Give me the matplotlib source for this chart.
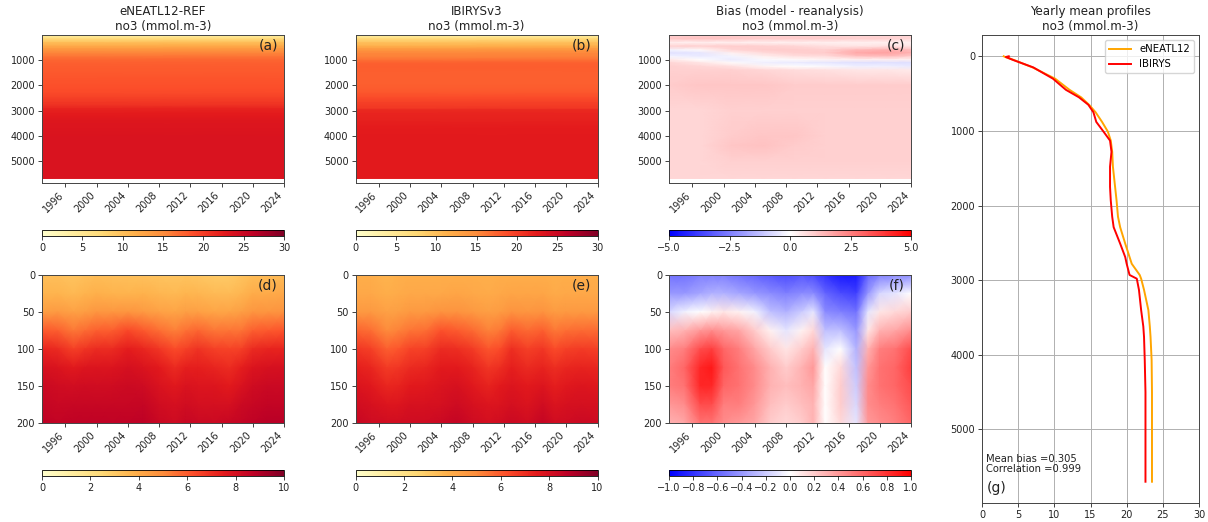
import matplotlib
matplotlib.use("Agg")
import matplotlib.pyplot as plt
import numpy as np

# yearly mean no3 profiles (mmol.m-3) vs depth (m)
prof_depth = [0.5, 10, 50, 150, 300, 450, 550, 650, 750, 880, 1010, 1130, 1280,
              1480, 1750, 1930, 2150, 2290, 2510, 2690, 2780, 2930, 2980, 3130,
              3220, 3400, 3620, 3760, 4070, 4500, 5000, 5700]
prof_neatl = [3.0, 3.2, 4.4, 7.0, 10.1, 12.1, 13.7, 14.8, 15.7, 16.6, 17.4, 17.8, 18.0,
              18.1, 18.4, 18.6, 18.8, 19.1, 19.8, 20.4, 20.7, 21.8, 22.0, 22.4,
              22.6, 23.0, 23.2, 23.3, 23.45, 23.5, 23.5, 23.5]
prof_ibirys = [3.7, 3.3, 4.3, 7.1, 9.8, 11.6, 13.4, 14.7, 15.4, 15.8, 16.8, 17.7, 17.9,
               17.7, 17.7, 17.8, 18.0, 18.2, 19.1, 19.8, 20.0, 20.4, 21.4, 21.7,
               21.8, 22.0, 22.3, 22.4, 22.5, 22.6, 22.6, 22.6]
mean_bias = 0.305
correlation = 0.999

period = [1993, 2024]

# full-depth bias field (model - reanalysis)
bias_years = [1993, 1997, 2001, 2005, 2009, 2013, 2017, 2021, 2024]
bias_depth = [0.5, 150, 300, 450, 600, 720, 850, 980, 1100, 1250, 1400,
              2000, 3000, 4000, 4400, 5000, 5700]
bias_full = [
    [0.9, 1.0, 1.0, 0.9, 0.9, 0.9, 0.8, 0.8, 0.8],
    [1.1, 1.2, 1.1, 1.0, 1.0, 1.0, 0.9, 0.9, 0.8],
    [0.3, 0.3, 0.3, 0.3, 0.3, 0.3, 0.3, 0.3, 0.3],
    [0.9, 0.9, 1.0, 0.9, 0.8, 0.6, 0.5, 0.6, 0.5],
    [-0.2, 0.1, 0.8, 1.0, 1.0, 0.9, 1.4, 1.6, 1.3],
    [-0.6, -0.5, 0.3, 0.7, 0.9, 1.0, 1.7, 1.8, 1.5],
    [-0.2, -0.4, -0.2, 0.3, 0.6, 0.7, 1.2, 1.3, 1.0],
    [0.4, 0.0, -0.4, -0.1, 0.1, 0.2, 0.3, 0.3, 0.3],
    [0.8, 0.5, 0.1, -0.3, -0.4, -0.5, -0.6, -0.6, -0.6],
    [0.9, 0.8, 0.6, 0.2, 0.0, -0.1, -0.3, -0.3, -0.4],
    [0.9, 0.9, 0.9, 0.8, 0.7, 0.6, 0.5, 0.5, 0.4],
    [1.0, 1.1, 1.1, 1.1, 1.0, 1.0, 1.0, 1.0, 1.0],
    [0.8, 0.8, 0.9, 0.9, 0.9, 0.9, 0.9, 0.9, 0.9],
    [0.8, 0.8, 1.0, 1.1, 1.1, 0.9, 0.9, 0.9, 0.9],
    [0.8, 0.8, 1.1, 1.2, 1.0, 0.9, 0.9, 0.9, 0.9],
    [0.8, 0.8, 0.9, 0.9, 0.9, 0.9, 0.9, 0.9, 0.9],
    [0.8, 0.8, 0.8, 0.8, 0.8, 0.8, 0.8, 0.8, 0.8],
]

# upper 200 m: reanalysis field and bias
top_years = [1993, 1995, 1997, 1998.5, 2000, 2002, 2004, 2006, 2008, 2010,
             2011.5, 2013, 2015, 2017, 2018.5, 2020, 2022, 2024]
top_depth = [0, 25, 50, 75, 100, 125, 150, 175, 200]
ibirys_top = [
    [3.9, 3.9, 3.7, 3.8, 3.9, 3.9, 3.9, 3.9, 3.9, 3.8, 3.9, 3.9, 3.9, 3.9, 3.8, 3.9, 3.9, 3.9],
    [4.1, 4.1, 3.9, 4.0, 4.1, 4.1, 4.1, 4.2, 4.1, 4.0, 4.1, 4.2, 4.2, 4.2, 4.0, 4.1, 4.1, 4.1],
    [4.6, 4.6, 4.3, 4.4, 4.6, 4.6, 4.8, 4.8, 4.6, 4.4, 4.5, 4.8, 4.7, 4.8, 4.5, 4.6, 4.6, 4.6],
    [5.8, 5.6, 5.0, 5.2, 5.5, 5.6, 6.2, 6.0, 5.7, 5.2, 5.4, 6.0, 5.7, 5.9, 5.4, 5.6, 5.7, 5.7],
    [6.8, 6.6, 5.9, 6.1, 6.5, 6.6, 7.1, 7.0, 6.7, 6.1, 6.3, 7.0, 6.6, 6.8, 6.3, 6.6, 6.7, 6.6],
    [7.4, 7.2, 6.7, 6.8, 7.1, 7.2, 7.5, 7.5, 7.3, 6.8, 7.0, 7.4, 7.1, 7.3, 7.0, 7.2, 7.3, 7.2],
    [7.8, 7.6, 7.2, 7.3, 7.5, 7.6, 7.8, 7.9, 7.6, 7.3, 7.5, 7.7, 7.5, 7.7, 7.4, 7.6, 7.7, 7.6],
    [8.1, 7.9, 7.7, 7.7, 7.9, 7.9, 8.0, 8.2, 7.9, 7.7, 7.8, 8.0, 7.8, 8.1, 7.8, 7.9, 8.0, 7.9],
    [8.4, 8.2, 8.1, 8.1, 8.2, 8.2, 8.3, 8.5, 8.2, 8.0, 8.1, 8.3, 8.1, 8.5, 8.1, 8.2, 8.3, 8.2],
]
bias_top = [
    [-0.55, -0.55, -0.5, -0.5, -0.5, -0.55, -0.6, -0.65, -0.7, -0.65, -0.7, -0.8, -0.9, -0.9, -0.6, -0.5, -0.45, -0.45],
    [-0.4, -0.4, -0.35, -0.3, -0.3, -0.35, -0.4, -0.45, -0.5, -0.45, -0.45, -0.6, -0.7, -0.75, -0.4, -0.15, -0.1, 0.0],
    [-0.15, -0.05, 0.0, 0.05, 0.1, 0.05, -0.05, -0.25, -0.3, -0.2, -0.1, -0.45, -0.5, -0.55, -0.1, 0.1, 0.15, 0.2],
    [0.25, 0.3, 0.4, 0.45, 0.4, 0.35, 0.2, 0.05, -0.1, 0.05, 0.15, -0.25, -0.25, -0.4, 0.1, 0.3, 0.35, 0.45],
    [0.45, 0.5, 0.7, 0.75, 0.6, 0.5, 0.35, 0.2, 0.1, 0.2, 0.3, -0.1, 0.0, -0.3, 0.3, 0.5, 0.55, 0.7],
    [0.5, 0.6, 0.85, 0.9, 0.65, 0.55, 0.45, 0.3, 0.2, 0.3, 0.4, 0.0, 0.15, -0.25, 0.4, 0.55, 0.6, 0.75],
    [0.5, 0.55, 0.85, 0.85, 0.6, 0.55, 0.45, 0.3, 0.25, 0.3, 0.35, 0.0, 0.2, -0.2, 0.45, 0.55, 0.6, 0.7],
    [0.4, 0.45, 0.7, 0.7, 0.5, 0.5, 0.4, 0.25, 0.2, 0.25, 0.3, 0.0, 0.2, -0.15, 0.45, 0.5, 0.55, 0.65],
    [0.3, 0.35, 0.55, 0.55, 0.45, 0.4, 0.35, 0.2, 0.15, 0.2, 0.3, 0.0, 0.15, -0.1, 0.4, 0.45, 0.5, 0.6],
]

year_ticks = [1996, 2000, 2004, 2008, 2012, 2016, 2020, 2024]
units = "no3 (mmol.m-3)"

TICK_FS = 7
TITLE_FS = 8.6
W, H = 1208, 522
fig = plt.figure(figsize=(W / 100, H / 100), dpi=100)


def box(left, top, right, bottom):
    return fig.add_axes([left / W, 1 - bottom / H, (right - left) / W, (bottom - top) / H])


def style(ax):
    ax.tick_params(labelsize=TICK_FS, length=3, width=0.6, pad=2, colors="#222222")
    for s in ax.spines.values():
        s.set_linewidth(0.7)
        s.set_color("#444444")


def hovmoller(ax, x, y, c, cmap, vmin, vmax, ylim, yticks, label):
    im = ax.pcolormesh(x, y, c, cmap=cmap, vmin=vmin, vmax=vmax, shading="gouraud")
    ax.set_xlim(period)
    ax.set_ylim(ylim)
    ax.set_yticks(yticks)
    ax.set_xticks(year_ticks)
    ax.set_xticklabels([str(v) for v in year_ticks], rotation=45, ha="right")
    ax.text(0.975, 0.93, label, transform=ax.transAxes, ha="right", va="center",
            fontsize=10, color="#222222")
    style(ax)
    return im


def cbar(im, left, top, right, bottom, ticks):
    cax = box(left, top, right, bottom)
    cb = fig.colorbar(im, cax=cax, orientation="horizontal", ticks=ticks)
    cb.ax.tick_params(labelsize=TICK_FS, length=3, width=0.6, pad=2, colors="#222222")
    cb.outline.set_linewidth(0.6)
    return cb


lefts = [42, 355.5, 669]
aw = 242
deep_ylim = (5880, 0.5)
deep_ticks = [1000, 2000, 3000, 4000, 5000]
shallow_ticks = [0, 50, 100, 150, 200]

prof_n = np.column_stack([prof_neatl, prof_neatl])
prof_i = np.column_stack([prof_ibirys, prof_ibirys])
ibirys_top = np.array(ibirys_top)
bias_top = np.array(bias_top)
neatl_top = ibirys_top + bias_top

# top row: full depth
ax_a = box(lefts[0], 35, lefts[0] + aw, 183)
im = hovmoller(ax_a, period, prof_depth, prof_n, "YlOrRd", 0, 30, deep_ylim, deep_ticks, "(a)")
ax_a.set_title("eNEATL12-REF\n" + units, fontsize=TITLE_FS, pad=3.5, color="#222222")
cbar(im, lefts[0], 229.5, lefts[0] + aw, 236, [0, 5, 10, 15, 20, 25, 30])

ax_b = box(lefts[1], 35, lefts[1] + aw, 183)
im = hovmoller(ax_b, period, prof_depth, prof_i, "YlOrRd", 0, 30, deep_ylim, deep_ticks, "(b)")
ax_b.set_title("IBIRYSv3\n" + units, fontsize=TITLE_FS, pad=3.5, color="#222222")
cbar(im, lefts[1], 229.5, lefts[1] + aw, 236, [0, 5, 10, 15, 20, 25, 30])

ax_c = box(lefts[2], 35, lefts[2] + aw, 183)
im = hovmoller(ax_c, bias_years, bias_depth, bias_full, "bwr", -5, 5, deep_ylim, deep_ticks, "(c)")
ax_c.set_title("Bias (model - reanalysis)\n" + units, fontsize=TITLE_FS, pad=3.5, color="#222222")
cbar(im, lefts[2], 229.5, lefts[2] + aw, 236, [-5.0, -2.5, 0.0, 2.5, 5.0])

# bottom row: upper 200 m
ax_d = box(lefts[0], 275, lefts[0] + aw, 423)
im = hovmoller(ax_d, top_years, top_depth, neatl_top, "YlOrRd", 0, 10, (200, 0), shallow_ticks, "(d)")
cbar(im, lefts[0], 469.5, lefts[0] + aw, 476, [0, 2, 4, 6, 8, 10])

ax_e = box(lefts[1], 275, lefts[1] + aw, 423)
im = hovmoller(ax_e, top_years, top_depth, ibirys_top, "YlOrRd", 0, 10, (200, 0), shallow_ticks, "(e)")
cbar(im, lefts[1], 469.5, lefts[1] + aw, 476, [0, 2, 4, 6, 8, 10])

ax_f = box(lefts[2], 275, lefts[2] + aw, 423)
im = hovmoller(ax_f, top_years, top_depth, bias_top, "bwr", -1, 1, (200, 0), shallow_ticks, "(f)")
cbar(im, lefts[2], 469.5, lefts[2] + aw, 476,
     [-1.0, -0.8, -0.6, -0.4, -0.2, 0.0, 0.2, 0.4, 0.6, 0.8, 1.0])

# yearly mean profiles
ax_g = box(982, 35, 1199, 503)
ax_g.plot(prof_neatl, prof_depth, color="orange", lw=1.4, label="eNEATL12")
ax_g.plot(prof_ibirys, prof_depth, color="red", lw=1.4, label="IBIRYS")
ax_g.invert_yaxis()
ax_g.set_xlim(0, 30)
ax_g.set_xticks([0, 5, 10, 15, 20, 25, 30])
ax_g.set_yticks([0, 1000, 2000, 3000, 4000, 5000])
ax_g.grid(True, color="#b0b0b0", lw=0.7)
ax_g.set_axisbelow(True)
ax_g.legend(loc="upper right", fontsize=7.3, handlelength=2.2)
ax_g.set_title("Yearly mean profiles\n" + units, fontsize=TITLE_FS, pad=3.5, color="#222222")
ax_g.text(0.02, 0.083, "Mean bias =%.3f\nCorrelation =%.3f" % (mean_bias, correlation),
          transform=ax_g.transAxes, fontsize=7.2, va="center", ha="left", linespacing=1.05,
          color="#222222")
ax_g.text(0.02, 0.032, "(g)", transform=ax_g.transAxes, fontsize=10, va="center", ha="left",
          color="#222222")
style(ax_g)

fig.savefig("out.png", dpi=100)
